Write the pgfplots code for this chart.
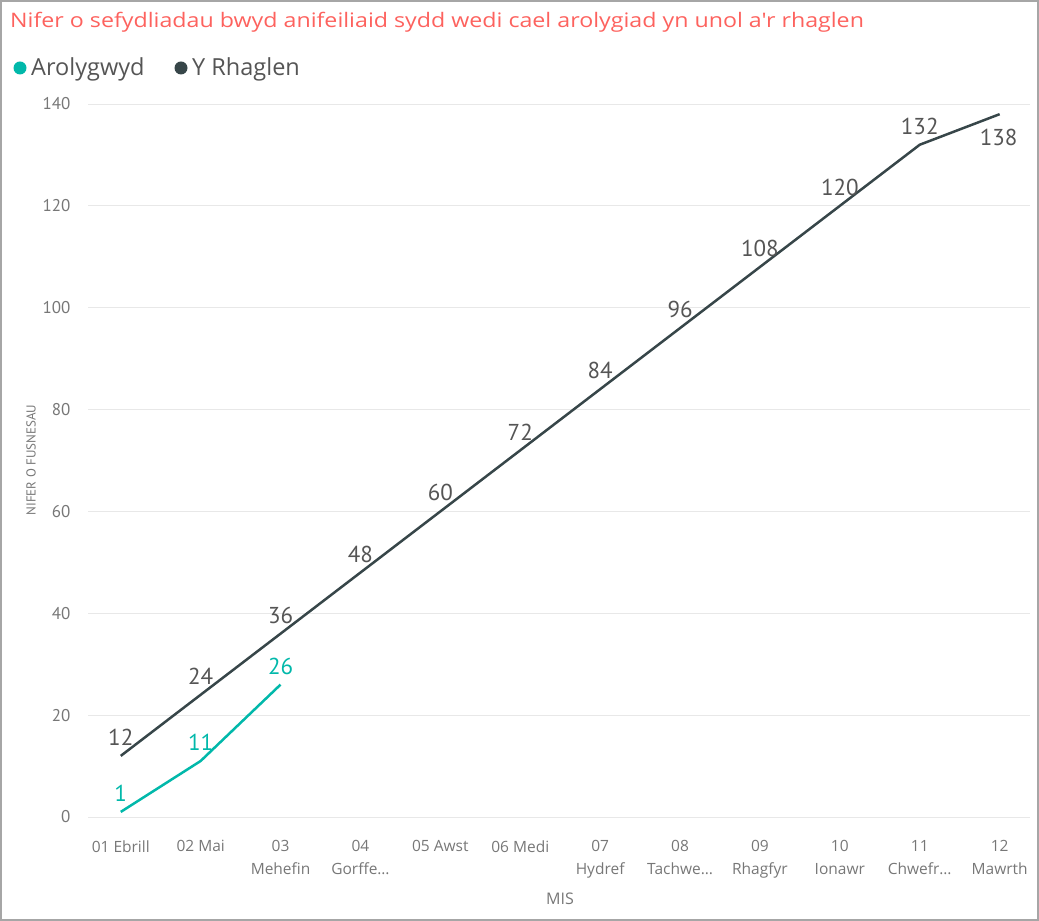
\documentclass[border=0pt]{standalone}
\usepackage{pgfplots}
\pgfplotsset{compat=1.18}
\usepackage{fontspec}
\setmainfont{Open Sans}
\newfontfamily\widefont[FakeStretch=1.16]{Open Sans}
\newfontfamily\dinfont{PT Sans}
\definecolor{teal}{HTML}{01B8AA}
\definecolor{dark}{HTML}{374649}
\definecolor{titlered}{HTML}{FD625E}
\definecolor{tickgray}{HTML}{777777}
\definecolor{lblgray}{HTML}{555555}
\definecolor{gridgray}{HTML}{E8E8E8}
\begin{document}
\begin{tikzpicture}[x=1pt,y=1pt]
\path[use as bounding box] (0,0) rectangle (1039,921);
\draw[gray!70, line width=2pt] (1,1) rectangle (1038,920);
\node[anchor=west, text=titlered, font=\widefont\fontsize{20}{24}\selectfont, inner sep=0] at (10,899) {Nifer o sefydliadau bwyd anifeiliaid sydd wedi cael arolygiad yn unol a'r rhaglen};
\fill[teal] (20,853) circle (6.5);
\node[anchor=west, text=lblgray, font=\fontsize{23.5}{28}\selectfont, inner sep=0] at (31,852) {Arolygwyd};
\fill[dark] (181,853) circle (6.5);
\node[anchor=west, text=lblgray, font=\fontsize{23.5}{28}\selectfont, inner sep=0] at (192,852) {Y Rhaglen};
\node[rotate=90, text=tickgray, font=\dinfont\fontsize{13}{16}\selectfont] at (31,461) {NIFER O FUSNESAU};
\node[text=tickgray, font=\fontsize{16}{18}\selectfont] at (560,22) {MIS};
\begin{axis}[
  at={(88pt,104pt)}, anchor=south west,
  scale only axis, width=942pt, height=713pt,
  xmin=-0.41, xmax=11.38, ymin=0, ymax=140,
  axis line style={draw=none},
  ymajorgrids, grid style={gridgray, line width=0.8pt},
  ytick={0,20,...,140},
  xtick={0,...,11},
  xticklabels={01 Ebrill,02 Mai,03\\Mehefin,04\\Gorffe\dots,05 Awst,06 Medi,07\\Hydref,08\\Tachwe\dots,09\\Rhagfyr,10\\Ionawr,11\\Chwefr\dots,12\\Mawrth},
  major tick length=0pt,
  /pgf/number format/assume math mode=true,
  yticklabel style={text=tickgray, font=\dinfont\fontsize{17}{19}\selectfont, xshift=-14pt},
  xticklabel style={text=tickgray, font=\fontsize{15.5}{23}\selectfont, align=center, anchor=north, yshift=-20pt},
  clip=false,
]
\addplot[dark, line width=2.5pt, line join=round] coordinates {
(0,12)(1,24)(2,36)(3,48)(4,60)(5,72)(6,84)(7,96)(8,108)(9,120)(10,132)(11,138)};
\addplot[teal, line width=2.5pt, line join=round] coordinates {
(0,1)(1,11)(2,26)};
\addplot[draw=none, nodes near coords, nodes near coords align=above,
  every node near coord/.style={text=lblgray, font=\dinfont\fontsize{23}{26}\selectfont, inner sep=0, yshift=10pt}] coordinates {
(0,12)(1,24)(2,36)(3,48)(4,60)(5,72)(6,84)(7,96)(8,108)(9,120)(10,132)};
\addplot[draw=none, nodes near coords, nodes near coords align=below,
  every node near coord/.style={text=lblgray, font=\dinfont\fontsize{23}{26}\selectfont, inner sep=0, yshift=-15pt, xshift=-1pt}] coordinates {
(11,138)};
\addplot[draw=none, nodes near coords, nodes near coords align=above,
  every node near coord/.style={text=teal, font=\dinfont\fontsize{23}{26}\selectfont, inner sep=0, yshift=10pt}] coordinates {
(0,1)(1,11)(2,26)};
\end{axis}
\end{tikzpicture}
\end{document}
